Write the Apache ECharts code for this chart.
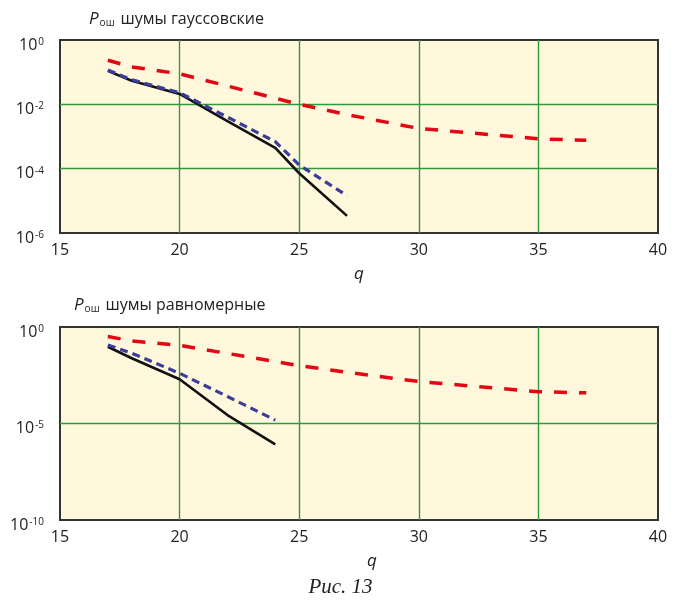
<!DOCTYPE html>
<html>
<head>
<meta charset="utf-8">
<script src="https://cdn.jsdelivr.net/npm/echarts@6/dist/echarts.min.js"></script>
<style>html,body{margin:0;padding:0;background:#fff}#c{width:681px;height:600px}</style>
</head>
<body>
<div id="c"></div>
<script>
// ---- data ----
const topRedQ   = [17, 18, 20, 25, 27, 30, 35, 37];
const topRedP   = [0.234, 0.145, 0.089, 0.010, 0.0048, 0.00178, 0.00085, 0.00076];
const topBlackQ = [17, 18, 20, 22, 24, 25, 27];
const topBlackP = [0.11, 0.054, 0.021, 0.0030, 4.4e-4, 7.2e-5, 3.4e-6];
const topBlueQ  = [17, 18, 20, 22, 24, 25, 27];
const topBlueP  = [0.117, 0.058, 0.023, 0.0040, 6.9e-4, 1.3e-4, 1.45e-5];

const botRedQ   = [17, 18, 20, 25, 27, 30, 35, 37];
const botRedP   = [0.32, 0.19, 0.112, 0.010, 0.0045, 0.0015, 4.4e-4, 3.9e-4];
const botBlackQ = [17, 18, 20, 22, 24];
const botBlackP = [0.095, 0.024, 1.95e-3, 2.75e-5, 8.3e-7];
const botBlueQ  = [17, 18, 20, 22, 24];
const botBlueP  = [0.117, 0.044, 0.0040, 2.5e-4, 1.5e-5];

const xTicks = [15, 20, 25, 30, 35, 40];
const topYExp = [-6, -4, -2, 0];   // tick exponents, top panel
const botYExp = [-10, -5, 0];      // tick exponents, bottom panel
const topTitle = 'шумы гауссовские';
const botTitle = 'шумы равномерные';
const caption = 'Рис. 13';

// ---- chart ----
const FONT = 'Open Sans';
const pair = (qs, ps) => qs.map((q, i) => [q, ps[i]]);
const chart = echarts.init(document.getElementById('c'), null, {renderer: 'canvas'});
const GREEN = '#2e9a3a';

function xAxis(gi, namePad) {
  return {
    type: 'value', gridIndex: gi, min: xTicks[0], max: xTicks[xTicks.length - 1], interval: 5,
    axisLine: {show: false}, axisTick: {show: false},
    axisLabel: {color: '#222', fontFamily: FONT, fontSize: 16, margin: 9},
    splitLine: {show: true, showMinLine: false, showMaxLine: false, lineStyle: {color: GREEN, width: 1.4}},
    name: 'q', nameLocation: 'middle', nameGap: 33,
    nameTextStyle: {fontFamily: FONT, fontStyle: 'italic', fontSize: 17, color: '#222', padding: namePad}
  };
}
function yAxis(gi, exps) {
  const step = exps[1] - exps[0];
  return {
    type: 'log', logBase: 10, gridIndex: gi,
    min: Math.pow(10, exps[0]), max: Math.pow(10, exps[exps.length - 1]),
    interval: step, splitNumber: exps.length - 1,
    axisLine: {show: false}, axisTick: {show: false},
    splitLine: {show: true, showMinLine: false, showMaxLine: false, lineStyle: {color: GREEN, width: 1.4}},
    minorSplitLine: {show: false},
    axisLabel: {
      margin: 16, padding: [10, 0, 0, 0],
      formatter: v => '{b|10}{s|' + Math.round(Math.log10(v)) + '}',
      rich: {
        b: {fontFamily: FONT, fontSize: 16, color: '#222'},
        s: {fontFamily: FONT, fontSize: 10, color: '#222', verticalAlign: 'top', padding: [0, 0, 0, 1]}
      }
    }
  };
}
const titleRich = {
  p: {fontFamily: FONT, fontStyle: 'italic', fontWeight: 'normal', fontSize: 17, color: '#222'},
  sub: {fontFamily: FONT, fontWeight: 'normal', fontSize: 10, color: '#222', verticalAlign: 'bottom', padding: [0, 6, 0, 1]},
  t: {fontFamily: FONT, fontWeight: 'normal', fontSize: 16, color: '#222'}
};
function lines(xi, rq, rp, kq, kp, bq, bp) {
  return [
    {type: 'line', xAxisIndex: xi, yAxisIndex: xi, data: pair(rq, rp), showSymbol: false, symbol: 'none',
      lineStyle: {color: '#e30613', width: 3.5, type: [13, 12]}, z: 3, animation: false},
    {type: 'line', xAxisIndex: xi, yAxisIndex: xi, data: pair(kq, kp), showSymbol: false, symbol: 'none',
      lineStyle: {color: '#111', width: 2.6}, z: 4, animation: false},
    {type: 'line', xAxisIndex: xi, yAxisIndex: xi, data: pair(bq, bp), showSymbol: false, symbol: 'none',
      lineStyle: {color: '#3b3d99', width: 3.2, type: [8, 5]}, z: 5, animation: false}
  ];
}

chart.setOption({
  animation: false,
  backgroundColor: '#fff',
  title: [
    {text: '{p|P}{sub|ош}{t|' + topTitle + '}', left: 84, top: 6, textStyle: {fontWeight: 'normal', rich: titleRich}},
    {text: '{p|P}{sub|ош}{t|' + botTitle + '}', left: 69, top: 292, textStyle: {fontWeight: 'normal', rich: titleRich}},
    {text: caption, left: 'center', top: 572, textStyle: {fontFamily: 'Liberation Serif', fontStyle: 'italic', fontWeight: 'normal', fontSize: 21, color: '#222'}}
  ],
  grid: [
    {left: 60, right: 23, top: 40, height: 193, show: true, backgroundColor: '#fff8dc', borderColor: '#333', borderWidth: 2},
    {left: 60, right: 23, top: 327, height: 193, show: true, backgroundColor: '#fff8dc', borderColor: '#333', borderWidth: 2}
  ],
  xAxis: [xAxis(0, [0, 0, 0, 0]), xAxis(1, [0, 0, 0, 26])],
  yAxis: [yAxis(0, topYExp), yAxis(1, botYExp)],
  series: [].concat(
    lines(0, topRedQ, topRedP, topBlackQ, topBlackP, topBlueQ, topBlueP),
    lines(1, botRedQ, botRedP, botBlackQ, botBlackP, botBlueQ, botBlueP)
  )
});
</script>
</body>
</html>
